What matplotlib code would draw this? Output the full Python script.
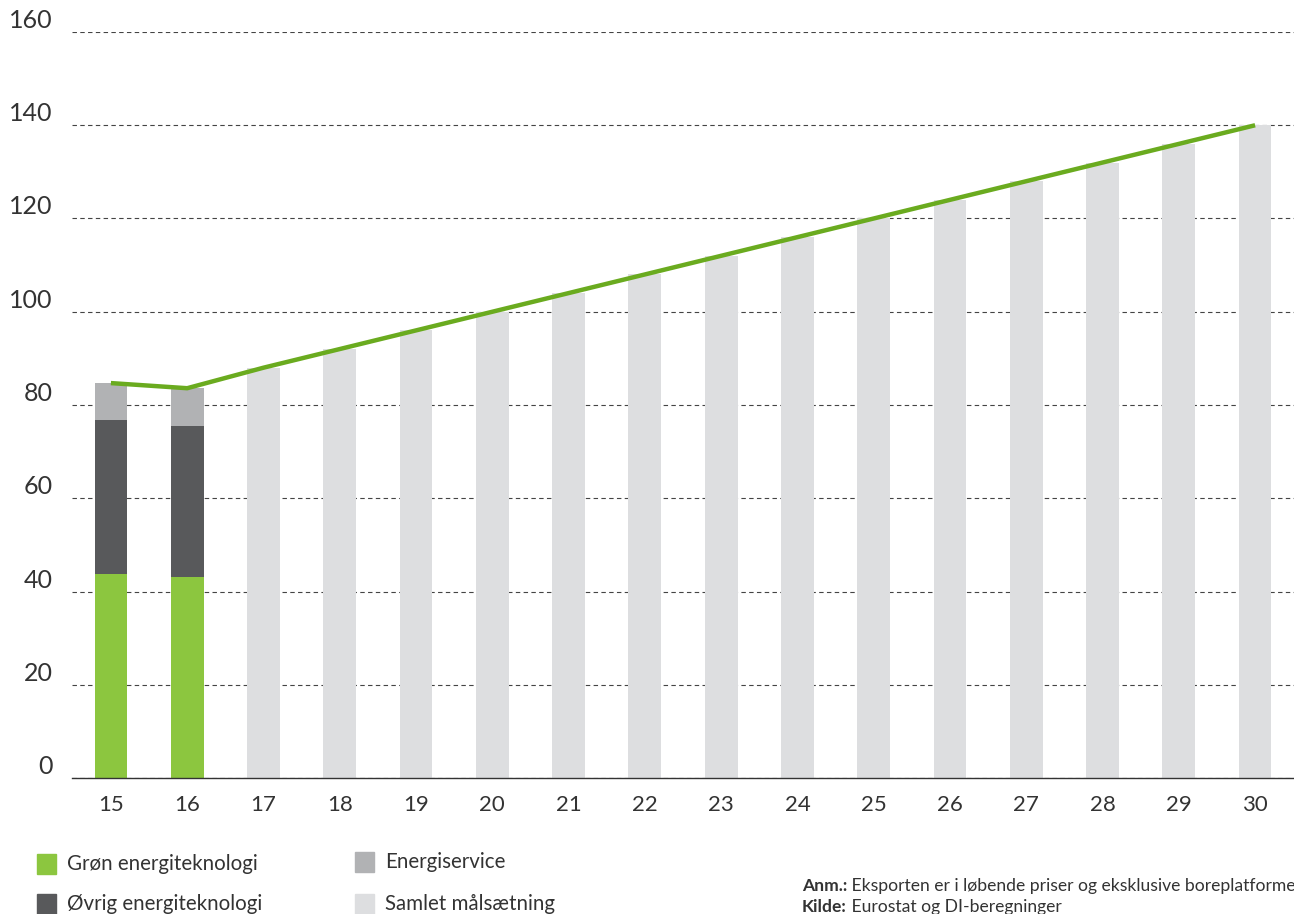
import numpy as np
import matplotlib.pyplot as plt
from matplotlib.patches import Rectangle

plt.rcParams['font.family'] = ['Lato', 'DejaVu Sans']

# data
years = ['15', '16', '17', '18', '19', '20', '21', '22', '23',
         '24', '25', '26', '27', '28', '29', '30']
groen = [43.8, 43.1]
oevrig = [33.0, 32.4]
service = [7.9, 8.1]
maal = [None, None, 88, 92, 96, 100, 104, 108, 112, 116, 120, 124, 128, 132, 136, 140]
linje = [84.7, 83.6, 88, 92, 96, 100, 104, 108, 112, 116, 120, 124, 128, 132, 136, 140]
yticks = [0, 20, 40, 60, 80, 100, 120, 140, 160]

c_groen = '#8cc63f'
c_oevrig = '#58595b'
c_service = '#b1b2b4'
c_maal = '#dddee0'
c_line = '#6aab1f'
c_text = '#333333'

fig = plt.figure(figsize=(12.94, 9.14), dpi=100)
ax = fig.add_axes([72 / 1294, 1 - 778 / 914, 1 - 72 / 1294, (778 - 32) / 914])

x = np.arange(len(years))
w = 0.43

# target bars
xm = [i for i, v in enumerate(maal) if v is not None]
ax.bar(xm, [maal[i] for i in xm], width=w, color=c_maal, zorder=2)

# stacked actual bars
ax.bar(x[:2], groen, width=w, color=c_groen, zorder=2)
ax.bar(x[:2], oevrig, width=w, bottom=groen, color=c_oevrig, zorder=2)
bot2 = np.array(groen) + np.array(oevrig)
ax.bar(x[:2], service, width=w, bottom=bot2, color=c_service, zorder=2)

ax.plot(x, linje, color=c_line, lw=3.2, zorder=3, solid_capstyle='butt')

ax.set_xlim(-0.51, 15.51)
ax.set_ylim(0, 160)
ax.set_yticks(yticks)
ax.set_yticklabels([str(t) for t in yticks])
ax.set_xticks(x)
ax.set_xticklabels(years)
ax.yaxis.grid(True, linestyle=(0, (4, 3)), color='#444444', lw=0.8, zorder=0)
ax.set_axisbelow(True)
for s in ['top', 'right', 'left']:
    ax.spines[s].set_visible(False)
ax.spines['bottom'].set_color('#333333')
ax.spines['bottom'].set_linewidth(1.0)
ax.spines['bottom'].set_zorder(4)
ax.tick_params(axis='both', length=0, colors=c_text)
ax.tick_params(axis='y', labelsize=18, pad=14)
ax.tick_params(axis='x', labelsize=16, pad=12)
for lbl in ax.get_yticklabels():
    lbl.set_va('bottom')

# legend, drawn by hand
legend = [(c_groen, 'Grøn energiteknologi', 37, 864),
          (c_oevrig, 'Øvrig energiteknologi', 37, 904),
          (c_service, 'Energiservice', 355, 862),
          (c_maal, 'Samlet målsætning', 355, 904)]
for col, txt, px, py in legend:
    fig.add_artist(Rectangle((px / 1294, 1 - (py + 10) / 914), 19 / 1294, 20 / 914,
                             transform=fig.transFigure, color=col))
    fig.text((px + 30) / 1294, 1 - py / 914, txt, fontsize=14.8,
             color=c_text, va='center')

# notes: bold label followed by normal text
fig.canvas.draw()
renderer = fig.canvas.get_renderer()
notes = [('Anm.:', ' Eksporten er i løbende priser og eksklusive boreplatforme', 886),
         ('Kilde:', ' Eurostat og DI-beregninger', 907)]
for head, body, py in notes:
    t = fig.text(802 / 1294, 1 - py / 914, head, fontsize=12.6, color=c_text,
                 va='center', weight='bold')
    bb = t.get_window_extent(renderer)
    fig.text(bb.x1 / 1294, 1 - py / 914, body, fontsize=12.6, color=c_text, va='center')

fig.savefig('out.png', dpi=100)
